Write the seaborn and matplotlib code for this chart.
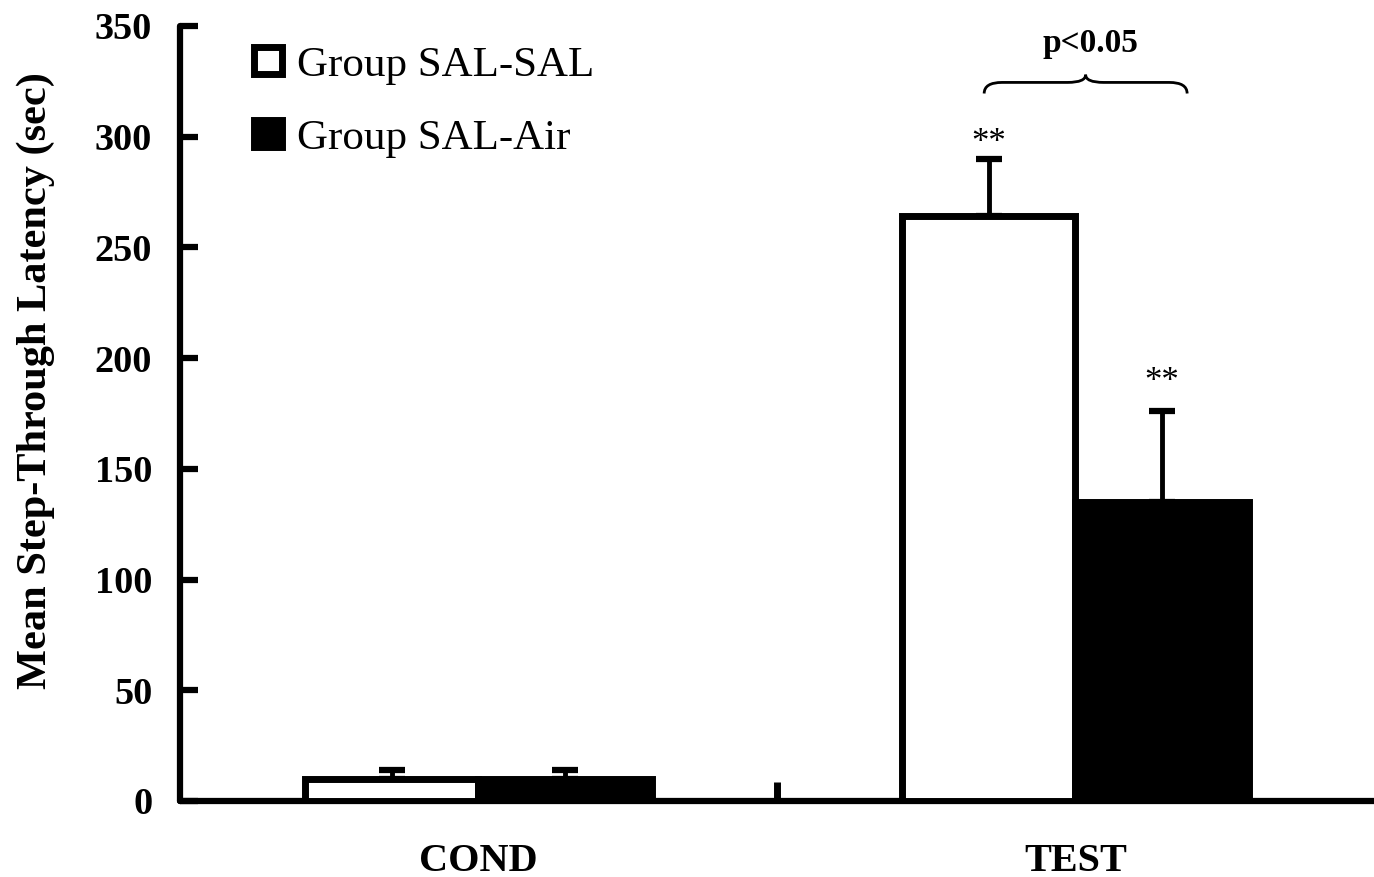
import matplotlib
matplotlib.use("Agg")
import matplotlib.pyplot as plt
import seaborn as sns
import pandas as pd
from matplotlib.path import Path
from matplotlib.patches import PathPatch

# --- data ---
phases = ["COND", "TEST"]
groups = ["Group SAL-SAL", "Group SAL-Air"]
sal_sal_mean = [10, 264]
sal_sal_sem = [4, 26]
sal_air_mean = [10, 135]
sal_air_sem = [4, 41]
y_ticks = [0, 50, 100, 150, 200, 250, 300, 350]

df = pd.DataFrame({
    "phase": phases * 2,
    "group": [groups[0]] * len(phases) + [groups[1]] * len(phases),
    "mean": sal_sal_mean + sal_air_mean,
})
sems = [sal_sal_sem, sal_air_sem]
means = [sal_sal_mean, sal_air_mean]

sns.set_theme(style="ticks", rc={
    "text.color": "black", "axes.edgecolor": "black", "axes.labelcolor": "black",
    "xtick.color": "black", "ytick.color": "black",
})
plt.rcParams["font.family"] = ["Liberation Serif", "DejaVu Serif"]
plt.rcParams["font.weight"] = "bold"

fig = plt.figure(figsize=(13.74, 8.77), dpi=100)
ax = fig.add_axes([0.131, 0.0867, 0.869, 0.8837])

sns.barplot(
    data=df, x="phase", y="mean", hue="group", hue_order=groups,
    palette=["white", "black"], saturation=1, edgecolor="black",
    linewidth=5, width=0.58, errorbar=None, ax=ax, zorder=3,
)
bar_groups = list(ax.containers)

# upper-only error bars at bar centres
for i, cont in enumerate(bar_groups):
    xs = [p.get_x() + p.get_width() / 2 for p in cont]
    ax.errorbar(
        xs, means[i], yerr=[[0] * len(xs), sems[i]], fmt="none",
        ecolor="black", elinewidth=3.5, capsize=9.5, capthick=4.5, zorder=2,
    )

# significance stars
white_test = bar_groups[0][1]
black_test = bar_groups[1][1]
for p, y in [(white_test, 297), (black_test, 189)]:
    ax.text(p.get_x() + p.get_width() / 2, y, "**", ha="center", va="center",
            fontsize=25, fontweight="normal")

# curly brace + p value
x0, x1, xm = 0.847, 1.187, 1.017
ye, ymid, yt = 319.5, 324.5, 328
d = 0.03
verts = [(x0, ye), (x0, ymid), (x0 + d, ymid), (xm - d, ymid), (xm, ymid), (xm, yt),
         (xm, ymid), (xm + d, ymid), (x1 - d, ymid), (x1, ymid), (x1, ye)]
codes = [Path.MOVETO, Path.CURVE3, Path.CURVE3, Path.LINETO, Path.CURVE3, Path.CURVE3,
         Path.CURVE3, Path.CURVE3, Path.LINETO, Path.CURVE3, Path.CURVE3]
ax.add_patch(PathPatch(Path(verts, codes), fill=False, lw=2, color="black", clip_on=False))
ax.text(1.025, 342, "p<0.05", ha="center", va="center", fontsize=24, fontweight="bold")

# axes styling
ax.set_xlim(-0.5, 1.5)
ax.set_ylim(0, 350)
ax.set_yticks(y_ticks)
ax.set_xticks([0.5], [""])
ax.set_xticks([0, 1], phases, minor=True)
ax.tick_params(axis="y", direction="in", length=13, width=4.5, labelsize=27.5, pad=20)
ax.tick_params(axis="x", which="major", direction="in", length=14, width=5)
ax.tick_params(axis="x", which="minor", length=0, labelsize=29, pad=30)
for lbl in ax.get_yticklabels() + ax.get_xticklabels(minor=True):
    lbl.set_fontweight("bold")

ax.set_xlabel("")
ax.set_ylabel("Mean Step-Through Latency (sec)", fontsize=30.5, fontweight="bold")
ax.yaxis.set_label_coords(-0.105, 0.542)
sns.despine(ax=ax)
for s in ["left", "bottom"]:
    ax.spines[s].set_linewidth(4.5)
    ax.spines[s].set_capstyle("round")

handles, labels = ax.get_legend_handles_labels()
ax.legend(handles, labels, loc="upper left", bbox_to_anchor=(0.04, 1.007), frameon=False,
          prop={"family": "Liberation Serif", "weight": "normal", "size": 31},
          handlelength=0.65, handleheight=0.6, handletextpad=0.35, labelspacing=0.8,
          borderaxespad=0.2)

fig.savefig("out.png", dpi=100)
